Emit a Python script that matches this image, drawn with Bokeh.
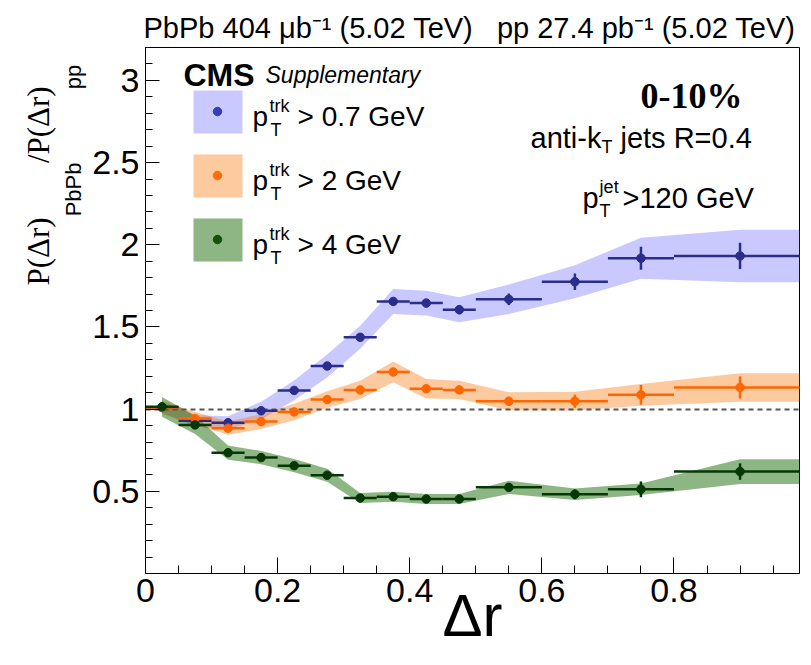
import numpy as np
from bokeh.plotting import figure
from bokeh.models import Label, FixedTicker, CustomJSTickFormatter, BoxAnnotation, Range1d, Title
from bokeh.embed import file_html
from bokeh.resources import INLINE

# ---------------- data ----------------
bin_edges = [0.0, 0.05, 0.10, 0.15, 0.20, 0.25, 0.30, 0.35, 0.40, 0.45, 0.50, 0.60, 0.70, 0.80, 1.00]

blue_ratio = [1.01, 0.93, 0.917, 0.99, 1.114, 1.262, 1.437, 1.655, 1.645, 1.605, 1.668, 1.775, 1.918, 1.932]
blue_stat = [0.005, 0.006, 0.008, 0.010, 0.012, 0.014, 0.016, 0.020, 0.025, 0.028, 0.035, 0.050, 0.070, 0.080]
blue_syst = [0.030, 0.035, 0.040, 0.055, 0.060, 0.070, 0.070, 0.076, 0.075, 0.076, 0.090, 0.100, 0.125, 0.160]

orange_ratio = [1.01, 0.943, 0.884, 0.924, 0.983, 1.058, 1.117, 1.226, 1.124, 1.117, 1.048, 1.048, 1.087, 1.132]
orange_stat = [0.005, 0.006, 0.008, 0.010, 0.010, 0.012, 0.014, 0.015, 0.020, 0.025, 0.020, 0.040, 0.060, 0.067]
orange_syst = [0.040, 0.040, 0.040, 0.045, 0.050, 0.050, 0.055, 0.063, 0.060, 0.055, 0.055, 0.057, 0.066, 0.087]

green_ratio = [1.014, 0.904, 0.735, 0.705, 0.656, 0.598, 0.459, 0.467, 0.453, 0.453, 0.524, 0.482, 0.512, 0.620]
green_stat = [0.005, 0.006, 0.008, 0.010, 0.010, 0.010, 0.012, 0.014, 0.016, 0.020, 0.015, 0.030, 0.048, 0.050]
green_syst = [0.060, 0.055, 0.043, 0.040, 0.040, 0.040, 0.030, 0.030, 0.030, 0.030, 0.040, 0.035, 0.035, 0.075]

series_labels = ["> 0.7 GeV", "> 2 GeV", "> 4 GeV"]
reference_ratio = 1.0

x_ticks = [0.0, 0.2, 0.4, 0.6, 0.8]
x_minor_ticks = [0.05, 0.10, 0.15, 0.25, 0.30, 0.35, 0.45, 0.50, 0.55, 0.65, 0.70, 0.75, 0.85, 0.90, 0.95]
y_ticks = [0.5, 1.0, 1.5, 2.0, 2.5, 3.0]
y_minor_ticks = [0.1, 0.2, 0.3, 0.4, 0.6, 0.7, 0.8, 0.9, 1.1, 1.2, 1.3, 1.4, 1.6, 1.7, 1.8, 1.9,
                 2.1, 2.2, 2.3, 2.4, 2.6, 2.7, 2.8, 2.9, 3.1, 3.2]

NB = "\u00a0"
top_text = "PbPb 404 μb⁻¹ (5.02 TeV)" + NB * 3 + "pp 27.4 pb⁻¹ (5.02 TeV)"

# ---------------- layout ----------------
W, H = 811, 665
FL, FR, FT, FB = 145, 799, 47, 573
X0, X1 = 0.0, 0.99
Y0, Y1 = 0.0, 3.2
XS = (FR - FL) / (X1 - X0)
YS = (FB - FT) / (Y1 - Y0)


def dx(px):
    return X0 + (px - FL) / XS


def dy(py):
    return Y0 + (FB - py) / YS


HELV = {' ': 278, '(': 333, ')': 333, '-': 333, '.': 278, '/': 278, '=': 584, '>': 584, '%': 889,
        'G': 778, 'P': 667, 'R': 722, 'T': 611, 'V': 667, 'a': 556, 'b': 556, 'e': 556, 'i': 222,
        'j': 222, 'k': 500, 'n': 556, 'p': 556, 'r': 333, 's': 500, 't': 278, 'μ': 576}
TIMES = {'P': 556, '(': 333, ')': 333, 'Δ': 612, 'r': 333, '/': 278, ' ': 250}


def tw(s, size, table=HELV):
    return sum(table.get(c, 556) for c in s) / 1000.0 * size


SANS = "Liberation Sans"
SERIF = "Liberation Serif"

p = figure(width=W, height=H, x_range=Range1d(X0, X1), y_range=Range1d(Y0, Y1),
           output_backend="svg", toolbar_location=None,
           min_border_left=FL, min_border_right=W - FR, min_border_top=FT, min_border_bottom=H - FB)
p.background_fill_color = "white"
p.border_fill_color = "white"
p.outline_line_color = "black"
p.outline_line_width = 1
p.grid.visible = False

# top line as the plot title
p.title.text = top_text
p.title.align = "left"
p.title.offset = -2
p.title.text_font = SANS
p.title.text_font_size = "29px"
p.title.text_font_style = "normal"
p.title.text_color = "black"
p.title.standoff = 7

fmt = CustomJSTickFormatter(code="return (Math.round(tick*10)/10).toString();")
xa = p.xaxis[0]
xa.ticker = FixedTicker(ticks=x_ticks, minor_ticks=x_minor_ticks)
xa.formatter = fmt
ya = p.yaxis[0]
ya.ticker = FixedTicker(ticks=y_ticks, minor_ticks=y_minor_ticks)
ya.formatter = fmt
for ax, mj, mn in ((xa, 16, 8), (ya, 14, 7)):
    ax.major_tick_in = mj
    ax.major_tick_out = 0
    ax.minor_tick_in = mn
    ax.minor_tick_out = 0
    ax.major_tick_line_color = "black"
    ax.minor_tick_line_color = "black"
    ax.axis_line_color = "black"
    ax.major_label_text_font = SANS
    ax.major_label_text_font_size = "34px"
    ax.major_label_text_color = "black"
xa.major_label_standoff = 5
ya.major_label_standoff = 6

xa.axis_label = "Δr"
xa.axis_label_text_font = SANS
xa.axis_label_text_font_size = "60px"
xa.axis_label_text_font_style = "normal"
xa.axis_label_text_color = "black"
xa.axis_label_standoff = -23

# y-axis title: main part and subscripts as two vertical titles
MS, SS = 31, 22
main_first = "P(Δr)"
sub_first = "PbPb"
main_second = "/P(Δr)"
sub_second = "pp"
gap_main = int(round(tw(sub_first, SS) / tw(" ", MS, TIMES)))
gap_sub = int(round(tw(main_second, MS, TIMES) / tw(" ", SS)))
main_text = main_first + NB * gap_main + main_second
sub_text = sub_first + NB * gap_sub + sub_second
start = 288
t_sub = Title(text=sub_text, align="left", offset=start + tw(main_first, MS, TIMES) + 2,
              text_font=SANS, text_font_size=f"{SS}px", text_font_style="normal",
              text_color="black", standoff=8)
t_main = Title(text=main_text, align="left", offset=start,
               text_font=SERIF, text_font_size=f"{MS}px", text_font_style="normal",
               text_color="black", standoff=-2)
p.add_layout(t_sub, "left")
p.add_layout(t_main, "left")

# ---------------- data marks ----------------
edges = np.array(bin_edges)
centers = (edges[:-1] + edges[1:]) / 2.0

series = [
    (blue_ratio, blue_stat, blue_syst, "#2a2d8c", "#5a5aff", 0.33),
    (orange_ratio, orange_stat, orange_syst, "#ff6600", "#fb7a10", 0.40),
    (green_ratio, green_stat, green_syst, "#053805", "#1e6e0a", 0.50),
]

for vals, stat, syst, mc, bc, ba in series:
    v = np.array(vals)
    sy = np.array(syst)
    bx = np.append(centers, edges[-1])
    lo = np.append(v - sy, v[-1] - sy[-1])
    hi = np.append(v + sy, v[-1] + sy[-1])
    p.varea(x=bx, y1=lo, y2=hi, fill_color=bc, fill_alpha=ba)

p.hspan(y=[reference_ratio], line_color="#555555", line_width=2, line_dash="5 4")

for vals, stat, syst, mc, bc, ba in series:
    v = np.array(vals)
    s = np.array(stat)
    p.segment(x0=edges[:-1], y0=v, x1=edges[1:], y1=v, line_color=mc, line_width=2.5)
    p.segment(x0=centers, y0=v - s, x1=centers, y1=v + s, line_color=mc, line_width=2.5)
    p.scatter(x=centers, y=v, size=8.5, fill_color=mc, line_color=mc, marker="circle")


# ---------------- texts inside the frame ----------------
def txt(x, y, s, size, font=SANS, style="normal", align="left", color="black"):
    p.add_layout(Label(x=dx(x), y=dy(y), text=s, text_font=font, text_font_size=f"{size}px",
                       text_font_style=style, text_align=align, text_baseline="alphabetic",
                       text_color=color))


# CMS
txt(183, 74, "CMS", 32, style="bold")
txt(265, 74, "Supplementary", 23, style="italic")

# legend
LS, LSS = 28, 18
for i, (vals, stat, syst, mc, bc, ba) in enumerate(series):
    off = 64 * i
    p.add_layout(BoxAnnotation(left=dx(193), right=dx(242), top=dy(90 + off), bottom=dy(133 + off),
                               fill_color=bc, fill_alpha=ba, line_alpha=0))
    p.scatter(x=[dx(217)], y=[dy(111 + off)], size=8.5, fill_color=mc, line_color=mc, marker="circle")
    base = 116 + off
    txt(252, base, "p", LS)
    txt(269, base - 11, "trk", LSS)
    txt(270, base + 13, "T", LSS)
    txt(297, base, series_labels[i], LS)

# right-hand texts
txt(742, 95, "0-10%", 36, font=SERIF, style="bold", align="right")
RS, RSS = 29, 18
x = 530
txt(x, 137, "anti-k", RS); x += tw("anti-k", RS)
txt(x, 146, "T", RSS); x += tw("T", RSS) + tw(" ", RS)
txt(x, 137, "jets R=0.4", RS)
x = 582
txt(x, 197, "p", RS)
txt(x + tw("p", RS) + 1, 186, "jet", RSS)
txt(x + tw("p", RS) + 1, 210, "T", RSS)
txt(622, 197, ">120 GeV", RS)

open("out.html", "w").write(file_html(p, INLINE))
